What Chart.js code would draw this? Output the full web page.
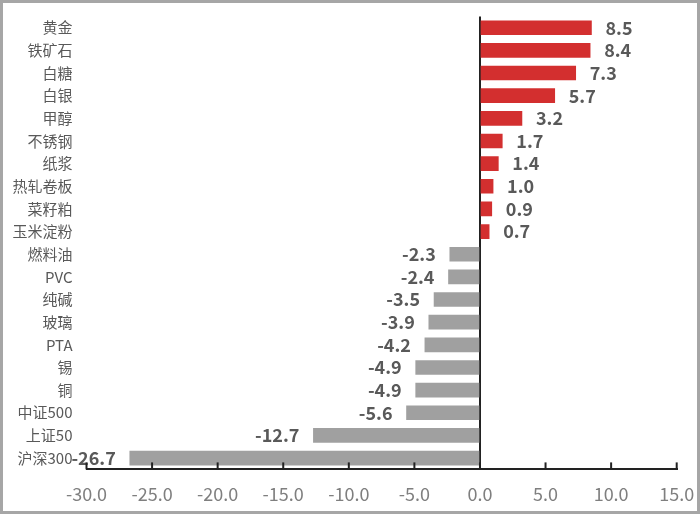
<!DOCTYPE html>
<html>
<head>
<meta charset="utf-8">
<script src="https://cdn.jsdelivr.net/npm/chart.js@4"></script>
<style>
    html, body { margin: 0; padding: 0; background: #fff; }
    #frame { position: absolute; left: 0; top: 0; width: 700px; height: 514px; box-sizing: border-box; border: 3px solid #a6a6a6; background: #fff; }
    canvas { display: block; }
</style>
</head>
<body>
<div id="frame"><canvas id="chart" width="694" height="508"></canvas></div>
<script>
    const categories = ['黄金', '铁矿石', '白糖', '白银', '甲醇', '不锈钢', '纸浆', '热轧卷板', '菜籽粕', '玉米淀粉', '燃料油', 'PVC', '纯碱', '玻璃', 'PTA', '锡', '铜', '中证500', '上证50', '沪深300'];
    const changes = [8.5, 8.4, 7.3, 5.7, 3.2, 1.7, 1.4, 1.0, 0.9, 0.7, -2.3, -2.4, -3.5, -3.9, -4.2, -4.9, -4.9, -5.6, -12.7, -26.7];
    const xMin = -30, xMax = 15, xStep = 5;

    const upColor = '#d32f2f';
    const downColor = '#a0a0a0';
    const fontFamily = '"Noto Sans CJK SC", "Noto Sans", sans-serif';

    // value labels next to each bar end
    const valueLabels = {
        id: 'valueLabels',
        afterDatasetsDraw(chart) {
            const ctx = chart.ctx;
            const meta = chart.getDatasetMeta(0);
            ctx.save();
            ctx.font = 'bold 18px ' + fontFamily;
            ctx.fillStyle = '#595959';
            ctx.textBaseline = 'middle';
            meta.data.forEach((bar, i) => {
                const v = changes[i];
                const txt = v.toFixed(1);
                if (v >= 0) { ctx.textAlign = 'left'; ctx.fillText(txt, bar.x + 14, bar.y); }
                else { ctx.textAlign = 'right'; ctx.fillText(txt, bar.x - 14, bar.y); }
            });
            ctx.restore();
        }
    };

    // tick marks pointing up into the plot
    const innerTicks = {
        id: 'innerTicks',
        afterDraw(chart) {
            const x = chart.scales.x, ctx = chart.ctx;
            ctx.save();
            ctx.strokeStyle = '#222';
            ctx.lineWidth = 2;
            x.ticks.forEach(t => {
                const px = x.getPixelForValue(t.value);
                ctx.beginPath();
                ctx.moveTo(px, x.top);
                ctx.lineTo(px, x.top - 7);
                ctx.stroke();
            });
            ctx.restore();
        }
    };

    new Chart(document.getElementById('chart').getContext('2d'), {
        type: 'bar',
        data: {
            labels: categories,
            datasets: [{
                data: changes,
                backgroundColor: changes.map(v => v >= 0 ? upColor : downColor),
                borderWidth: 0,
                barThickness: 14
            }]
        },
        options: {
            indexAxis: 'y',
            responsive: false,
            animation: false,
            layout: { padding: { top: 13.4, right: 20.3, bottom: 0, left: 0 } },
            plugins: { legend: { display: false }, tooltip: { enabled: false } },
            scales: {
                x: {
                    min: xMin,
                    max: xMax,
                    afterFit: s => { s.height = 41.6; s.paddingLeft = 0; s.paddingRight = 0; },
                    ticks: {
                        stepSize: xStep,
                        padding: 14,
                        color: '#7f7f7f',
                        font: { family: fontFamily, size: 18 },
                        callback: v => Number(v).toFixed(1)
                    },
                    grid: {
                        drawTicks: false,
                        lineWidth: 2,
                        color: c => (c.tick && c.tick.value === 0) ? '#222' : 'rgba(0,0,0,0)'
                    },
                    border: { color: '#222', width: 2 }
                },
                y: {
                    afterFit: s => { s.width = 83.5; s.paddingTop = 0; s.paddingBottom = 0; },
                    grid: { display: false },
                    border: { display: false },
                    ticks: {
                        padding: 6,
                        color: '#595959',
                        font: { family: fontFamily, size: 15 }
                    }
                }
            }
        },
        plugins: [valueLabels, innerTicks]
    });
</script>
</body>
</html>
